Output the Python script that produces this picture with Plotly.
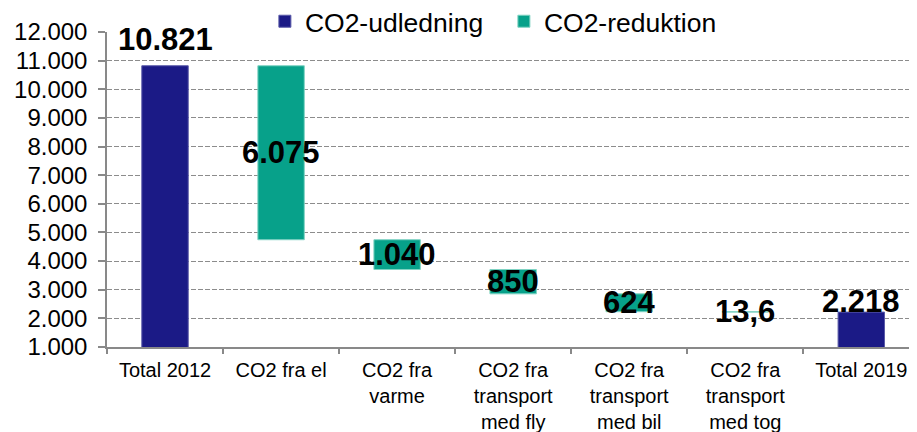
import plotly.graph_objects as go

# ---- data ----
categories = ["Total 2012", "CO2 fra el", "CO2 fra<br>varme",
              "CO2 fra<br>transport<br>med fly", "CO2 fra<br>transport<br>med bil",
              "CO2 fra<br>transport<br>med tog", "Total 2019"]
total_2012 = 10821
reductions = [6075, 1040, 850, 624, 13.6]
total_2019 = 2218
series_names = ["CO2-udledning", "CO2-reduktion"]
y_ticks = list(range(1000, 13000, 1000))

# ---- styles ----
C_TOTAL = "#1B1A86"
C_RED = "#07A18A"
FONT = "Liberation Sans"
total_label_shift = [7, -9]


def dk(v):
    if float(v).is_integer():
        return f"{int(v):,}".replace(",", ".")
    return f"{v:.1f}".replace(".", ",")


# running bases for reductions
bases = []
level = total_2012
for r in reductions:
    level -= r
    bases.append(level)

red_cats = categories[1:-1]
tot_cats = [categories[0], categories[-1]]
tot_vals = [total_2012, total_2019]

fig = go.Figure()
fig.add_trace(go.Bar(
    name=series_names[0], x=tot_cats, y=tot_vals, base=0,
    marker=dict(color=C_TOTAL, line=dict(color="#5a5aa8", width=1)),
    width=0.4,
))
fig.add_trace(go.Bar(
    name=series_names[1], x=red_cats, y=reductions, base=bases,
    marker=dict(color=C_RED, line=dict(color="#7fd3c3", width=1)),
    width=0.4,
))

annotations = []
for c, v, s in zip(tot_cats, tot_vals, total_label_shift):
    annotations.append(dict(x=c, y=v, xref="x", yref="y", text=dk(v),
                            showarrow=False, yanchor="bottom", yshift=s,
                            font=dict(family=FONT, size=31, color="black", weight="bold")))
for c, b, r in zip(red_cats, bases, reductions):
    annotations.append(dict(x=c, y=b + r / 2, xref="x", yref="y", text=dk(r),
                            showarrow=False, yanchor="middle",
                            font=dict(family=FONT, size=31, color="black", weight="bold")))

# page body has an 8px default margin, so the figure is sized/offset to compensate
fig.update_layout(
    width=909, height=424,
    margin=dict(l=99, r=0, t=24, b=85, autoexpand=False),
    paper_bgcolor="white", plot_bgcolor="white",
    separators=",.",
    barmode="overlay",
    showlegend=True,
    legend=dict(orientation="h", xref="container", yref="paper",
                x=0.2826, y=1.1095, xanchor="left", yanchor="top",
                entrywidth=194, entrywidthmode="pixels",
                bgcolor="rgba(0,0,0,0)",
                font=dict(family=FONT, size=26.5, color="black"),
                itemclick=False),
    annotations=annotations,
    font=dict(family=FONT, color="black"),
)
fig.update_xaxes(
    type="category", categoryorder="array", categoryarray=categories,
    range=[-0.5, 6.48], automargin=False,
    showline=True, linecolor="#898989", linewidth=1.5,
    ticks="outside", tickson="boundaries", ticklen=5, tickcolor="#898989", tickwidth=1.5,
    tickfont=dict(family=FONT, size=20, color="black"),
    ticklabelstandoff=4,
    showgrid=False,
)
fig.update_yaxes(
    range=[1000, 12000], tickvals=y_ticks, tickformat=",d", automargin=False,
    showline=True, linecolor="#898989", linewidth=1.5,
    ticks="outside", ticklen=7, tickcolor="#898989", tickwidth=1.5,
    tickfont=dict(family=FONT, size=24, color="black"),
    ticklabelstandoff=6,
    showgrid=True, gridcolor="#8c8c8c", gridwidth=1.2, griddash="5px,2px",
    zeroline=False,
)

fig.write_html("out.html")
